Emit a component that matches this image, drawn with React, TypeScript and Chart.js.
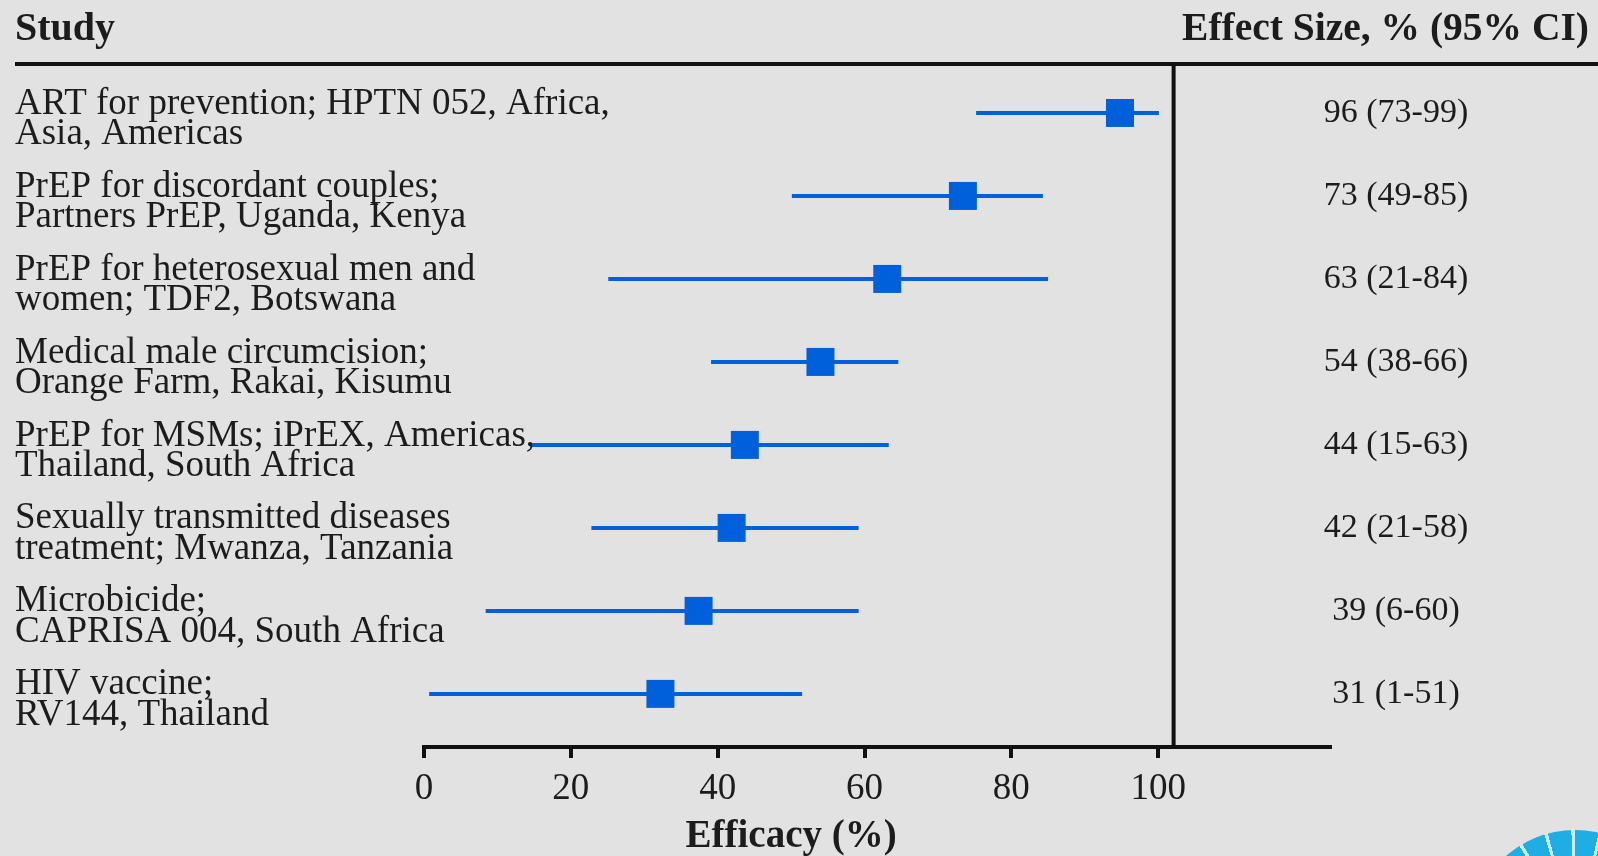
import React, { useEffect, useRef } from "react";
import { Chart, registerables } from "chart.js";

Chart.register(...registerables);

const studies: string[][] = [
  ["ART for prevention; HPTN 052, Africa,", "Asia, Americas"],
  ["PrEP for discordant couples;", "Partners PrEP, Uganda, Kenya"],
  ["PrEP for heterosexual men and", "women; TDF2, Botswana"],
  ["Medical male circumcision;", "Orange Farm, Rakai, Kisumu"],
  ["PrEP for MSMs; iPrEX, Americas,", "Thailand, South Africa"],
  ["Sexually transmitted diseases", "treatment; Mwanza, Tanzania"],
  ["Microbicide;", "CAPRISA 004, South Africa"],
  ["HIV vaccine;", "RV144, Thailand"],
];
const effectLabels: string[] = [
  "96 (73-99)",
  "73 (49-85)",
  "63 (21-84)",
  "54 (38-66)",
  "44 (15-63)",
  "42 (21-58)",
  "39 (6-60)",
  "31 (1-51)",
];
const estimates: number[] = [94.8, 73.4, 63.1, 54.0, 43.7, 41.9, 37.4, 32.2];
const lowerCI: number[] = [75.2, 50.1, 25.1, 39.1, 14.7, 22.8, 8.4, 0.7];
const upperCI: number[] = [100.1, 84.3, 85.0, 64.6, 63.3, 59.2, 59.2, 51.5];
const xTicks: number[] = [0, 20, 40, 60, 80, 100];
const dividerValue = 102.1;
const xMax = 123.4;
const yMin = -0.59;
const yMax = 7.64;
const labelShift = 0.075;

const BLUE = "#0060dc";
const INK = "#1c1c1c";
const FONT = "'Liberation Serif', 'Times New Roman', serif";

const overlayPlugin = {
  id: "forestOverlay",
  afterDraw(chart: any) {
    const { ctx, chartArea } = chart;
    const x = chart.scales.x;
    const yd = chart.scales.yd;
    ctx.save();
    ctx.strokeStyle = "#111";
    ctx.lineWidth = 4;
    ctx.beginPath();
    ctx.moveTo(15, chartArea.top);
    ctx.lineTo(chart.width, chartArea.top);
    ctx.stroke();
    const vx = x.getPixelForValue(dividerValue);
    ctx.beginPath();
    ctx.moveTo(vx, chartArea.top);
    ctx.lineTo(vx, chartArea.bottom);
    ctx.stroke();
    ctx.fillStyle = INK;
    ctx.font = `bold 40px ${FONT}`;
    ctx.textBaseline = "alphabetic";
    ctx.textAlign = "left";
    ctx.fillText("Study", 15, 40);
    ctx.font = `bold 39.5px ${FONT}`;
    ctx.textAlign = "right";
    ctx.fillText("Effect Size, % (95% CI)", 1589, 40);
    ctx.font = `bold 39px ${FONT}`;
    ctx.textAlign = "center";
    const cx = (x.getPixelForValue(0) + x.getPixelForValue(100)) / 2;
    ctx.fillText("Efficacy (%)", cx, 847);
    // effect size column
    ctx.font = `34px ${FONT}`;
    ctx.textBaseline = "middle";
    ctx.textAlign = "center";
    effectLabels.forEach((t, i) => {
      ctx.fillText(t, 1396, yd.getPixelForValue(i));
    });
    ctx.restore();
  },
};

export default function App() {
  const ref = useRef<HTMLCanvasElement | null>(null);
  useEffect(() => {
    if (!ref.current) return;
    Chart.defaults.font.family = FONT;
    const rowTicks = (scale: any) => {
      scale.ticks = studies.map((_, i) => ({ value: i }));
    };
    const ciSets = studies.map((_, i) => ({
      type: "scatter" as const,
      label: `ci${i}`,
      data: [
        { x: lowerCI[i], y: i },
        { x: upperCI[i], y: i },
      ],
      showLine: true,
      borderColor: BLUE,
      borderWidth: 4,
      pointRadius: 0,
      pointHoverRadius: 0,
      yAxisID: "yd",
    }));
    const chart = new Chart(ref.current, {
      type: "scatter",
      data: {
        datasets: [
          ...ciSets,
          {
            label: "estimate",
            data: estimates.map((v, i) => ({ x: v, y: i })),
            pointStyle: "rect",
            pointRadius: 19.8,
            pointHoverRadius: 19.8,
            backgroundColor: BLUE,
            borderWidth: 0,
            pointBorderWidth: 0,
            yAxisID: "yd",
          } as any,
        ],
      },
      options: {
        responsive: false,
        animation: false,
        events: [],
        layout: { padding: { left: 15, top: 64, right: 268, bottom: 0 } },
        plugins: { legend: { display: false }, tooltip: { enabled: false } },
        scales: {
          x: {
            type: "linear",
            position: "bottom",
            min: 0,
            max: xMax,
            afterBuildTicks: (scale: any) => {
              scale.ticks = xTicks.map((v) => ({ value: v }));
            },
            afterFit: (scale: any) => {
              scale.height = 109;
            },
            grid: {
              drawOnChartArea: false,
              drawTicks: true,
              tickLength: 11,
              color: "#111",
              lineWidth: 4,
            },
            border: { display: true, color: "#111", width: 4 },
            ticks: {
              autoSkip: false,
              maxRotation: 0,
              padding: 9,
              color: INK,
              font: { size: 37, family: FONT },
              callback: (v: any) => String(v),
            },
          },
          yd: {
            type: "linear",
            display: false,
            min: yMin,
            max: yMax,
            reverse: true,
          },
          y: {
            type: "linear",
            position: "left",
            min: yMin - labelShift,
            max: yMax - labelShift,
            reverse: true,
            afterBuildTicks: rowTicks,
            afterFit: (scale: any) => {
              scale.width = 409;
            },
            grid: { display: false },
            border: { display: false },
            ticks: {
              autoSkip: false,
              mirror: true,
              crossAlign: "near",
              padding: -409,
              color: INK,
              font: { size: 37, family: FONT, lineHeight: 0.83 },
              callback: (v: any) => studies[v] ?? "",
            },
          },
        },
      },
      plugins: [overlayPlugin],
    });
    return () => chart.destroy();
  }, []);

  return (
    <div
      style={{
        position: "fixed",
        left: 0,
        top: 0,
        width: 1598,
        height: 856,
        overflow: "hidden",
        background: "#e2e2e2",
      }}
    >
      <canvas ref={ref} width={1598} height={856} style={{ display: "block", width: 1598, height: 856 }} />
      <div
        style={{
          position: "absolute",
          left: 1575 - 105,
          top: 830,
          width: 210,
          height: 210,
          borderRadius: "50%",
          background:
            "repeating-conic-gradient(from 0deg at 50% 50%, #1eaee4 0deg 13deg, #c8ecf8 13deg 15deg)",
        }}
      />
    </div>
  );
}
